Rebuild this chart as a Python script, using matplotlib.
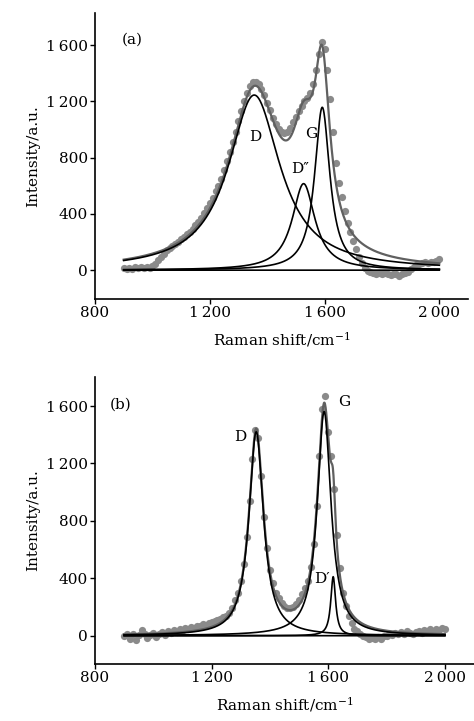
import numpy as np
import matplotlib.pyplot as plt

plt.rcParams['font.family'] = ['DejaVu Serif']
plt.rcParams['mathtext.fontset'] = 'dejavuserif'

# Measured spectra, Raman shift 900..2000 cm-1 step 10
shift = np.arange(900, 2001, 10)

spec_a = [
    15, 10, 18, 8, 20, 12, 22, 15, 25, 18,
    30, 45, 70, 95, 115, 140, 155, 170, 185, 200,
    220, 235, 255, 270, 295, 320, 345, 370, 405, 440,
    480, 510, 560, 600, 650, 715, 775, 840, 910, 985,
    1060, 1130, 1200, 1260, 1310, 1335, 1340, 1320, 1290, 1245,
    1190, 1140, 1085, 1040, 1005, 985, 975, 985, 1010, 1050,
    1090, 1130, 1170, 1205, 1225, 1260, 1320, 1420, 1540, 1625,
    1570, 1420, 1220, 980, 760, 620, 520, 420, 335, 270,
    210, 150, 95, 50, 15, -5, -15, -20, -25, -18,
    -30, -22, -28, -35, -25, -30, -38, -28, -20, -12,
    5, 20, 35, 45, 50, 55, 52, 60, 55, 65,
    80,
]

spec_b = [
    -5, 10, -25, 15, -30, 5, 40, 10, -15, 5,
    20, -10, 15, 25, 5, 30, 20, 40, 25, 45,
    35, 55, 45, 60, 55, 70, 65, 80, 75, 90,
    95, 100, 110, 115, 130, 140, 160, 195, 250, 300,
    380, 500, 690, 940, 1230, 1430, 1380, 1110, 830, 610,
    460, 370, 300, 260, 230, 210, 195, 190, 200, 220,
    250, 290, 330, 380, 480, 640, 900, 1250, 1580, 1670,
    1420, 1250, 1020, 700, 470, 300, 210, 140, 90, 50,
    30, 10, 0, -10, -20, -15, -25, -10, -20, -5,
    0, 10, 5, 20, 10, 25, 15, 30, 20, 10,
    25, 35, 20, 40, 30, 45, 35, 50, 40, 55,
    45,
]

# Lorentzian fit results: (name, centre, half width, height)
peaks_a = [('D', 1355, 110, 1245), ('D″', 1527, 48, 615), ('G', 1592, 32, 1158)]
peaks_b = [('D', 1353, 30, 1420), ('G', 1586, 28.5, 1561), ('D′', 1617, 10, 411)]

# label positions (x, y) for each peak
labels_a = [(1360, 945), (1515, 721), (1554, 969)]
labels_b = [(1298, 1383), (1655, 1631), (1580, 393)]


def lorentz(x, c, w, h):
    return h / (1 + ((x - c) / w) ** 2)


fig = plt.figure(figsize=(4.74, 7.21), dpi=100)
ax_a = fig.add_axes([0.2004, 0.5853, 0.787, 0.397])
ax_b = fig.add_axes([0.2004, 0.0791, 0.7996, 0.3984])

xf = np.linspace(shift[0], shift[-1], 1101)

panels = [
    (ax_a, spec_a, peaks_a, labels_a, '(a)', (893, 1640), (-205, 1830)),
    (ax_b, spec_b, peaks_b, labels_b, '(b)', (851, 1608), (-197, 1804)),
]

for ax, spec, peaks, labels, tag, tagpos, ylim in panels:
    ax.plot(shift, spec, 'o', color='#8a8a8a', ms=5.2, mec='none', zorder=1)
    comps = [lorentz(xf, c, w, h) for _, c, w, h in peaks]
    ax.plot(xf, np.sum(comps, axis=0), color='#606060', lw=1.6, zorder=2)
    for comp in comps:
        ax.plot(xf, comp, color='black', lw=1.2, zorder=3)
    ax.plot(xf, np.zeros_like(xf), color='black', lw=1.2, zorder=3)

    for (name, *_), (lx, ly) in zip(peaks, labels):
        ax.text(lx, ly, name, ha='center', va='center', fontsize=11)
    ax.text(tagpos[0], tagpos[1], tag, ha='left', va='center', fontsize=11)

    ax.set_xlim(800, 2100)
    ax.set_ylim(*ylim)
    ax.set_xticks([800, 1200, 1600, 2000])
    ax.set_xticklabels(['800', '1\u2009200', '1\u2009600', '2\u2009000'])
    ax.set_yticks([0, 400, 800, 1200, 1600])
    ax.set_yticklabels(['0', '400', '800', '1\u2009200', '1\u2009600'])
    ax.tick_params(direction='out', length=3.5, width=1, labelsize=11, pad=1.5)
    for s in ['top', 'right']:
        ax.spines[s].set_visible(False)
    for s in ['left', 'bottom']:
        ax.spines[s].set_linewidth(1.2)
    ax.set_xlabel('Raman shift/cm$^{-1}$', fontsize=11, labelpad=7)
    ax.set_ylabel('Intensity/a.u.', fontsize=11, labelpad=4)

fig.savefig('out.png', dpi=100)
